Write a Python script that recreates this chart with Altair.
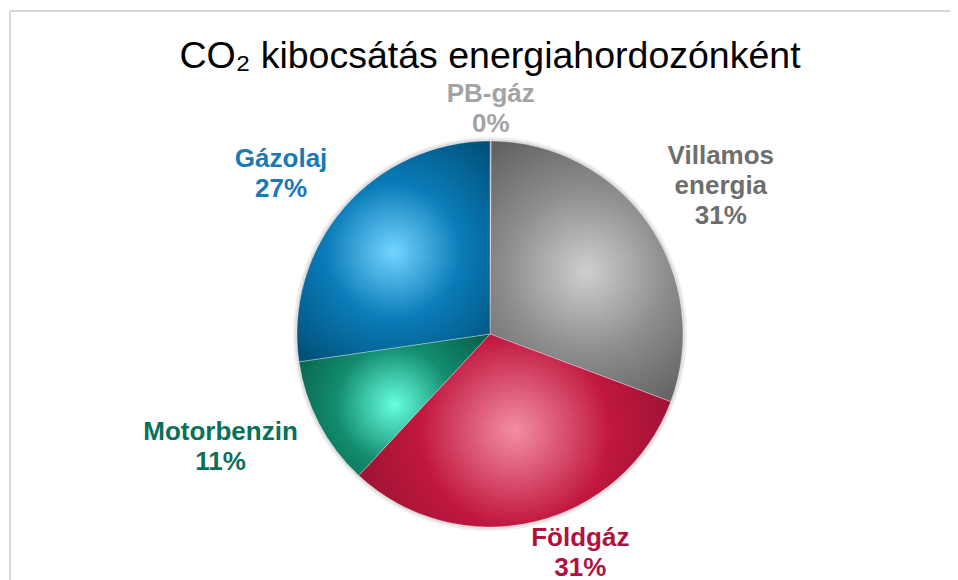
import math
import altair as alt
import pandas as pd

# ---- data -------------------------------------------------------------
categories = ["PB-gáz", "Villamos energia", "Földgáz", "Motorbenzin", "Gázolaj"]
shares = [0.1, 30.6, 31.2, 10.8, 27.3]          # % of CO2 emission

# ---- styles -----------------------------------------------------------
label_colors = ["#a3a3a3", "#6e6e6e", "#b0123f", "#0a7058", "#1a7ab3"]
grad_colors = [
    ("#e0e0e0", "#a6a6a6", "#6b6b6b"),
    ("#cfcfcf", "#8e8e8e", "#545454"),
    ("#f28ea4", "#c1173f", "#80102a"),
    ("#66ffe0", "#138c6e", "#04513f"),
    ("#74d4ff", "#0a7cb8", "#004a71"),
]
# label radius, dx, dy  (dy already includes the shift for the first line)
label_pos = [(225, 0, -15), (273, 6, -23), (240, 35, -30), (292, -11, -38), (263, -10, -3)]

W, H = 940, 572          # plot area
CX, CY = 480, 323        # pie centre inside plot area
R = 193

df = pd.DataFrame({"cat": categories, "value": shares, "order": range(len(categories))})
total = float(sum(shares))

base = (
    alt.Chart(df)
    .transform_window(cum="sum(value)", sort=[alt.SortField("order")], frame=[None, 0])
    .transform_calculate(
        start="datum.cum - datum.value",
        mid="datum.cum - datum.value / 2",
        label="replace(datum.cat, ' ', '\\n') + '\\n' + format(datum.value / 100, '.0%')",
    )
)

theta_scale = alt.Scale(domain=[0, total], range=[0, 2 * math.pi])
centre = dict(x=alt.value(CX), y=alt.value(CY))

layers = []
# chart frame (top and left edges; the rest lies outside the window)
layers.append(
    alt.Chart(df).mark_rule(color="#d9d9d9", strokeWidth=1.5)
    .encode(x=alt.value(0), x2=alt.value(W + 20), y=alt.value(0))
)
layers.append(
    alt.Chart(df).mark_rule(color="#d9d9d9", strokeWidth=1.5)
    .encode(x=alt.value(0), y=alt.value(0), y2=alt.value(H + 20))
)
# soft shadow
for rr, op in [(197, 0.06), (195, 0.08)]:
    layers.append(
        base.mark_arc(radius=rr, fill="#000000", opacity=op).encode(
            theta=alt.Theta("start:Q", scale=theta_scale), theta2="cum:Q", **centre
        )
    )

for cat, (c0, c1, c2) in zip(categories, grad_colors):
    grad = alt.Gradient(
        gradient="radial",
        stops=[
            alt.GradientStop(offset=0, color=c0),
            alt.GradientStop(offset=0.45, color=c1),
            alt.GradientStop(offset=1, color=c2),
        ],
        x1=0.5, y1=0.5, r1=0, x2=0.5, y2=0.5, r2=0.68,
    )
    layers.append(
        base.transform_filter(alt.datum.cat == cat)
        .mark_arc(radius=R, fill=grad, stroke="#ffffff", strokeWidth=0.5, strokeOpacity=0.6)
        .encode(theta=alt.Theta("start:Q", scale=theta_scale), theta2="cum:Q", **centre)
    )

for cat, col, (r, dx, dy) in zip(categories, label_colors, label_pos):
    layers.append(
        base.transform_filter(alt.datum.cat == cat)
        .mark_text(
            radius=r, dx=dx, dy=dy, color=col, font="Liberation Sans", fontWeight="bold",
            fontSize=26, lineHeight=30, lineBreak="\n", align="center", baseline="middle",
        )
        .encode(theta=alt.Theta("mid:Q", scale=theta_scale), text="label:N", **centre)
    )

chart = (
    alt.layer(*layers)
    .properties(
        width=W,
        height=H,
        autosize=alt.AutoSizeParams(type="none"),
        padding={"left": 2, "top": 3, "right": 0, "bottom": 0},
        title=alt.TitleParams(
            "CO₂ kibocsátás energiahordozónként",
            font="Liberation Sans", fontSize=37.5, fontWeight="normal", color="#000000",
            anchor="middle", offset=-65, dx=10,
        ),
    )
    .configure_view(stroke=None)
)

chart.save("out.html", embed_options={"renderer": "svg", "actions": False})
